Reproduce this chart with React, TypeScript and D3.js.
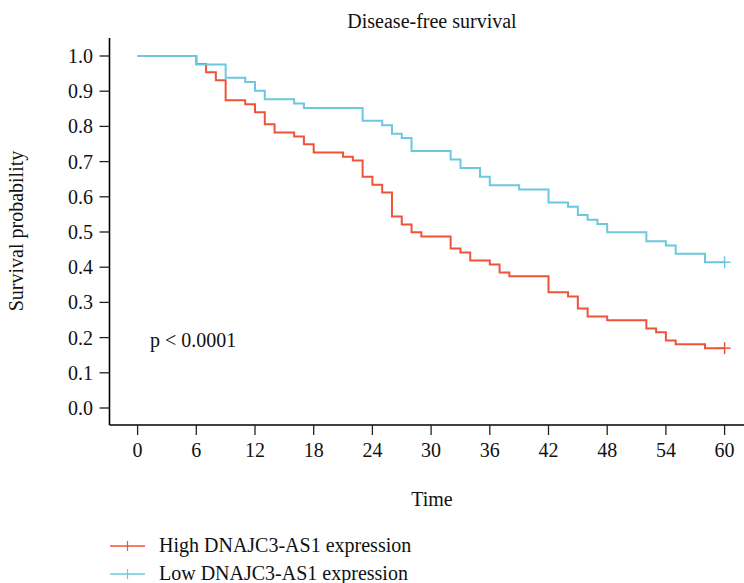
import React from "react";
import * as d3 from "d3";

const redTimes = [0, 6, 7, 8, 9, 11, 12, 13, 14, 16, 17, 18, 21, 22, 23, 24, 25, 26, 27, 28, 29, 32, 33, 34, 36, 37, 38, 42, 44, 45, 46, 48, 52, 53, 54, 55, 58];
const redSurv = [1.0, 0.977, 0.954, 0.931, 0.874, 0.863, 0.84, 0.806, 0.783, 0.771, 0.749, 0.726, 0.714, 0.703, 0.657, 0.634, 0.612, 0.544, 0.521, 0.499, 0.487, 0.453, 0.442, 0.419, 0.408, 0.385, 0.374, 0.329, 0.317, 0.283, 0.26, 0.249, 0.226, 0.215, 0.192, 0.181, 0.17];
const blueTimes = [0, 6, 9, 11, 12, 13, 16, 17, 23, 25, 26, 27, 28, 32, 33, 35, 36, 39, 42, 44, 45, 46, 47, 48, 52, 54, 55, 58];
const blueSurv = [1.0, 0.976, 0.938, 0.926, 0.901, 0.877, 0.865, 0.852, 0.816, 0.803, 0.779, 0.767, 0.73, 0.706, 0.682, 0.657, 0.633, 0.621, 0.584, 0.572, 0.548, 0.535, 0.523, 0.499, 0.474, 0.462, 0.438, 0.414];
const endTime = 60;
const xTicks = [0, 6, 12, 18, 24, 30, 36, 42, 48, 54, 60];
const yTicks = [0, 0.1, 0.2, 0.3, 0.4, 0.5, 0.6, 0.7, 0.8, 0.9, 1.0];
const seriesNames = ["High DNAJC3-AS1 expression", "Low DNAJC3-AS1 expression"];
const seriesColors = ["#F0533A", "#6CC8DC"];

const FONT = "'Liberation Serif', 'Times New Roman', serif";
const FS = 20;

export default function App() {
  const W = 744, H = 583;
  const x = d3.scaleLinear().domain([0, 60]).range([137.6, 724.6]);
  const y = d3.scaleLinear().domain([0, 1]).range([408, 56]);
  const axisX = 109.5;
  const axisY = 425;

  const mk = (ts: number[], ss: number[]) => {
    const pts: [number, number][] = ts.map((t, i) => [t, ss[i]]);
    pts.push([endTime, ss[ss.length - 1]]);
    return d3.line<[number, number]>().x(d => x(d[0])).y(d => y(d[1])).curve(d3.curveStepAfter)(pts) || "";
  };
  const series = [
    { t: redTimes, s: redSurv },
    { t: blueTimes, s: blueSurv },
  ];

  return (
    <div style={{ position: "absolute", left: 0, top: 0 }}>
      <svg width={W} height={H} style={{ display: "block", background: "#fff" }} fontFamily={FONT}>
        <text x={432} y={28} fontSize={FS} textAnchor="middle" fill="#111">Disease-free survival</text>
        <line x1={axisX} x2={axisX} y1={38} y2={axisY} stroke="#000" strokeWidth={1.6} />
        <line x1={axisX} x2={744} y1={axisY} y2={axisY} stroke="#000" strokeWidth={1.6} />
        {yTicks.map(v => (
          <g key={"y" + v}>
            <line x1={axisX - 10} x2={axisX} y1={y(v)} y2={y(v)} stroke="#222" strokeWidth={1.3} />
            <text x={93} y={y(v)} dy="0.35em" fontSize={FS} textAnchor="end" fill="#111">{d3.format(".1f")(v)}</text>
          </g>
        ))}
        {xTicks.map(v => (
          <g key={"x" + v}>
            <line x1={x(v)} x2={x(v)} y1={axisY} y2={axisY + 10} stroke="#222" strokeWidth={1.3} />
            <text x={x(v)} y={457} fontSize={FS} textAnchor="middle" fill="#111">{v}</text>
          </g>
        ))}
        <text transform="translate(23,231) rotate(-90)" fontSize={FS} textAnchor="middle" fill="#111">Survival probability</text>
        <text x={432} y={506} fontSize={FS} textAnchor="middle" fill="#111">Time</text>
        <text x={150} y={347} fontSize={FS} fill="#111">p &lt; 0.0001</text>
        {series.map((sr, i) => {
          const lastS = sr.s[sr.s.length - 1];
          const cx = x(endTime), cy = y(lastS);
          return (
            <g key={"s" + i}>
              <path d={mk(sr.t, sr.s)} fill="none" stroke={seriesColors[i]} strokeWidth={2} />
              <line x1={cx - 6} x2={cx + 6} y1={cy} y2={cy} stroke={seriesColors[i]} strokeWidth={1.5} />
              <line x1={cx} x2={cx} y1={cy - 6} y2={cy + 6} stroke={seriesColors[i]} strokeWidth={1.5} />
            </g>
          );
        })}
        {seriesNames.map((name, i) => {
          const ly = 546 + i * 28;
          return (
            <g key={"l" + i}>
              <line x1={110} x2={145} y1={ly} y2={ly} stroke={seriesColors[i]} strokeWidth={1.5} />
              <line x1={127.5} x2={127.5} y1={ly - 5} y2={ly + 5} stroke={seriesColors[i]} strokeWidth={1.2} />
              <text x={159} y={ly + 6} fontSize={FS} fill="#111">{name}</text>
            </g>
          );
        })}
      </svg>
    </div>
  );
}
